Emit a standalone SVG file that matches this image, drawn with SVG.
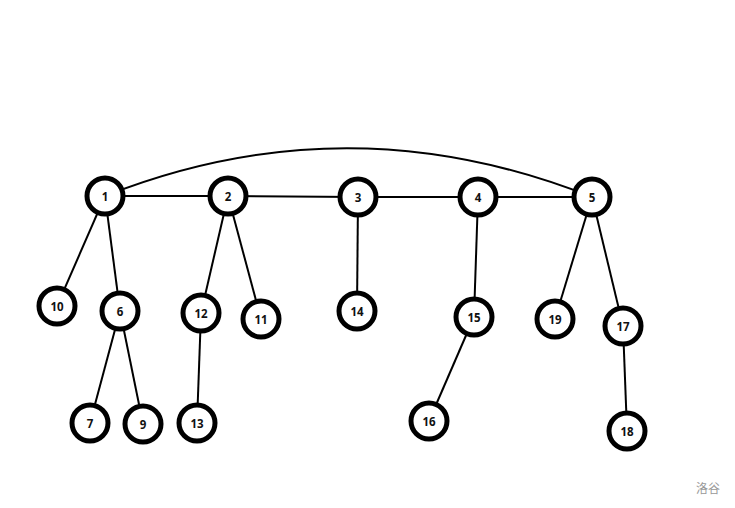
<svg xmlns="http://www.w3.org/2000/svg" width="735" height="508" viewBox="0 0 735 508">
<style>
.e{stroke:#000;stroke-width:2;fill:none}
.n circle{fill:#fff;stroke:#000;stroke-width:5}
.n text{font-family:"Open Sans","DejaVu Sans",sans-serif;font-weight:bold;font-size:11.5px;text-anchor:middle;dominant-baseline:central;fill:#111}
.wm{font-family:"Noto Sans CJK SC",sans-serif;font-size:12px;fill:#999}
</style>
<rect width="735" height="508" fill="#fff"/>
<g id="edges">
<path class="e" d="M105,196 Q348,100 592,197"/>
<line class="e" x1="105" y1="196" x2="228" y2="196"/>
<line class="e" x1="228" y1="196" x2="358" y2="197"/>
<line class="e" x1="358" y1="197" x2="478" y2="197"/>
<line class="e" x1="478" y1="197" x2="592" y2="197"/>
<line class="e" x1="105" y1="196" x2="57" y2="306"/>
<line class="e" x1="105" y1="196" x2="120" y2="311"/>
<line class="e" x1="228" y1="196" x2="201" y2="313"/>
<line class="e" x1="228" y1="196" x2="261" y2="319"/>
<line class="e" x1="358" y1="197" x2="357" y2="311"/>
<line class="e" x1="478" y1="197" x2="474" y2="317"/>
<line class="e" x1="592" y1="197" x2="555" y2="319"/>
<line class="e" x1="592" y1="197" x2="623" y2="326"/>
<line class="e" x1="120" y1="311" x2="90" y2="423"/>
<line class="e" x1="120" y1="311" x2="143" y2="424"/>
<line class="e" x1="201" y1="313" x2="197" y2="423"/>
<line class="e" x1="474" y1="317" x2="429" y2="421"/>
<line class="e" x1="623" y1="326" x2="627" y2="431"/>
</g>
<g id="n1" class="n"><circle cx="105" cy="196" r="18"/><text x="105" y="196">1</text></g>
<g id="n2" class="n"><circle cx="228" cy="196" r="18"/><text x="228" y="196">2</text></g>
<g id="n3" class="n"><circle cx="358" cy="197" r="18"/><text x="358" y="197">3</text></g>
<g id="n4" class="n"><circle cx="478" cy="197" r="18"/><text x="478" y="197">4</text></g>
<g id="n5" class="n"><circle cx="592" cy="197" r="18"/><text x="592" y="197">5</text></g>
<g id="n10" class="n"><circle cx="57" cy="306" r="18"/><text x="57" y="306">10</text></g>
<g id="n6" class="n"><circle cx="120" cy="311" r="18"/><text x="120" y="311">6</text></g>
<g id="n12" class="n"><circle cx="201" cy="313" r="18"/><text x="201" y="313">12</text></g>
<g id="n11" class="n"><circle cx="261" cy="319" r="18"/><text x="261" y="319">11</text></g>
<g id="n14" class="n"><circle cx="357" cy="311" r="18"/><text x="357" y="311">14</text></g>
<g id="n15" class="n"><circle cx="474" cy="317" r="18"/><text x="474" y="317">15</text></g>
<g id="n19" class="n"><circle cx="555" cy="319" r="18"/><text x="555" y="319">19</text></g>
<g id="n17" class="n"><circle cx="623" cy="326" r="18"/><text x="623" y="326">17</text></g>
<g id="n7" class="n"><circle cx="90" cy="423" r="18"/><text x="90" y="423">7</text></g>
<g id="n9" class="n"><circle cx="143" cy="424" r="18"/><text x="143" y="424">9</text></g>
<g id="n13" class="n"><circle cx="197" cy="423" r="18"/><text x="197" y="423">13</text></g>
<g id="n16" class="n"><circle cx="429" cy="421" r="18"/><text x="429" y="421">16</text></g>
<g id="n18" class="n"><circle cx="627" cy="431" r="18"/><text x="627" y="431">18</text></g>
<text class="wm" x="708" y="493" text-anchor="middle">洛谷</text>
</svg>
